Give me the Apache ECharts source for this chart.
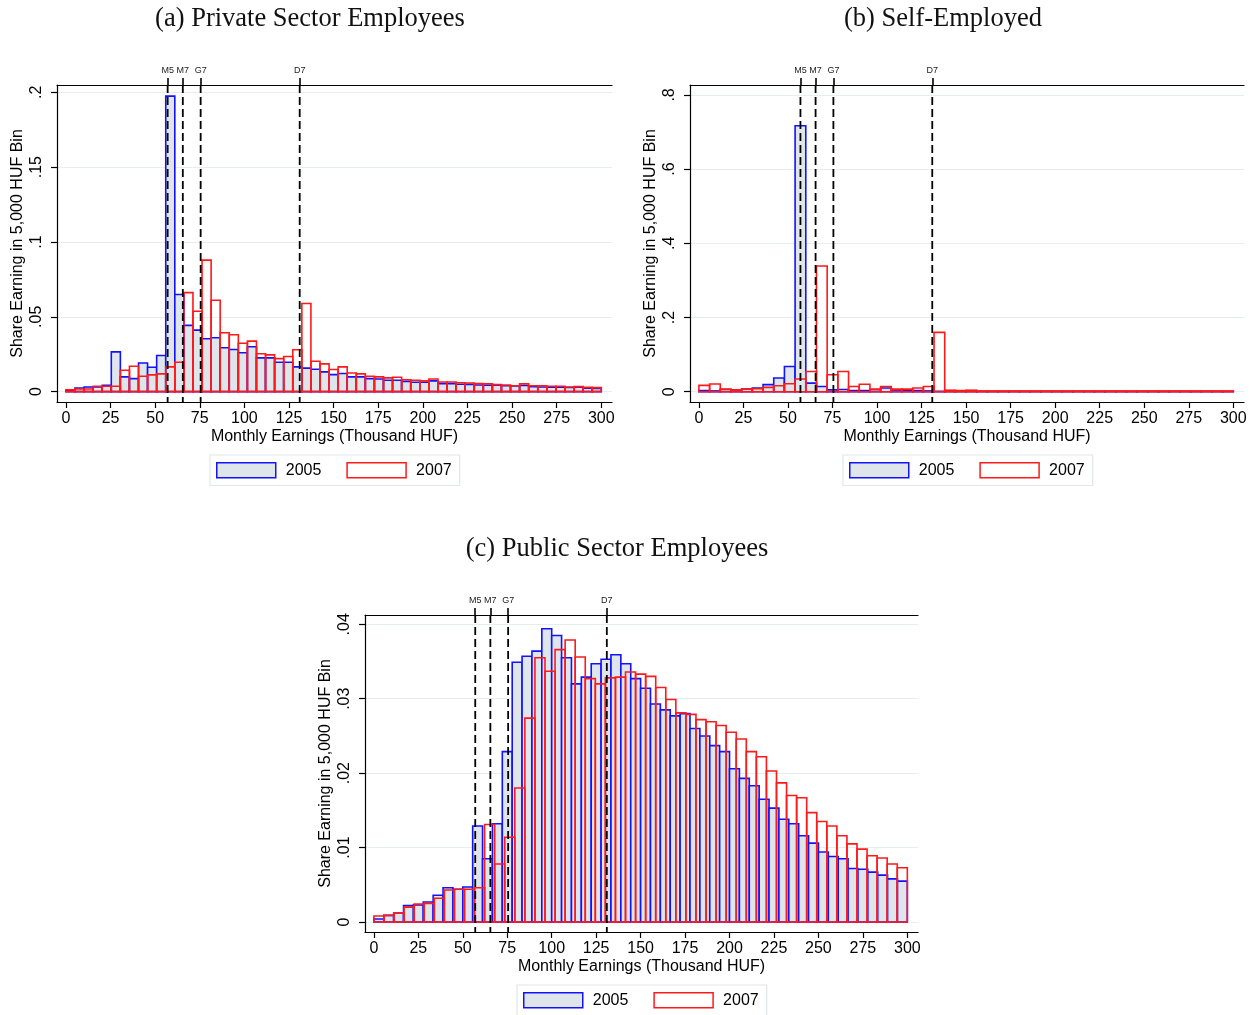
<!DOCTYPE html>
<html lang="en">
<head>
<meta charset="UTF-8">
<title>Monthly earnings distributions, 2005 vs 2007</title>
<script src="https://cdn.jsdelivr.net/npm/echarts@6/dist/echarts.min.js"></script>
<style>
    html, body { margin: 0; padding: 0; background: #fff; }
    #chart { width: 1258px; height: 1015px; }
</style>
</head>
<body>
<div id="chart"></div>
<script>
    // axis ticks
    var xTicks = [0, 25, 50, 75, 100, 125, 150, 175, 200, 225, 250, 275, 300];
    var privYTicks = [0, 0.05, 0.1, 0.15, 0.2];
    var selfYTicks = [0, 0.2, 0.4, 0.6, 0.8];
    var pubYTicks = [0, 0.01, 0.02, 0.03, 0.04];

    // reference wage levels (thousand HUF)
    var refVals = [57, 65.5, 75.5, 131];
    var refNames = ['M5', 'M7', 'G7', 'D7'];

    // (a) private sector, 59 bins over 0-300
    var privBins = 59;
    var privBlue = [0.001, 0.0025, 0.0031, 0.0031, 0.0042, 0.0266, 0.0099, 0.0087, 0.0192, 0.0163,
        0.0242, 0.1975, 0.0649, 0.0443, 0.0411, 0.0354, 0.036, 0.0293, 0.0282, 0.026,
        0.03, 0.0226, 0.0226, 0.0197, 0.0197, 0.0166, 0.0157, 0.015, 0.0132, 0.0114,
        0.0121, 0.0099, 0.0099, 0.0087, 0.0085, 0.0076, 0.0076, 0.0069, 0.0063, 0.0063,
        0.0072, 0.0054, 0.0054, 0.005, 0.0049, 0.0045, 0.0043, 0.0043, 0.004, 0.0038,
        0.0041, 0.0034, 0.0031, 0.003, 0.003, 0.0028, 0.003, 0.0024, 0.0022];
    var privRed = [0.0013, 0.0018, 0.0018, 0.0036, 0.0036, 0.0036, 0.0143, 0.017, 0.0103, 0.0112,
        0.0119, 0.0166, 0.0197, 0.0662, 0.0537, 0.0879, 0.0611, 0.0394, 0.038, 0.0324,
        0.0338, 0.0253, 0.0246, 0.0221, 0.0235, 0.028, 0.0589, 0.0203, 0.0186, 0.0148,
        0.0166, 0.0125, 0.0119, 0.0103, 0.0099, 0.0092, 0.0096, 0.008, 0.0076, 0.0072,
        0.0085, 0.0065, 0.0065, 0.006, 0.0058, 0.0054, 0.0052, 0.0047, 0.0045, 0.004,
        0.0052, 0.004, 0.004, 0.0036, 0.0036, 0.0031, 0.0034, 0.0029, 0.0027];

    // (b) self-employed, 50 bins over 0-300
    var selfBins = 50;
    var selfBlue = [0.003, 0.002, 0.006, 0.005, 0.007, 0.01, 0.019, 0.037, 0.068, 0.717,
        0.023, 0.014, 0.005, 0.006, 0.003, 0.003, 0.001, 0.01, 0.002, 0.003,
        0.003, 0.002, 0.001, 0.001, 0.001, 0.001, 0.001, 0.001, 0.001, 0.001,
        0.001, 0.001, 0.001, 0.001, 0.001, 0.001, 0.001, 0.001, 0.001, 0.001,
        0.001, 0.001, 0.001, 0.001, 0.001, 0.001, 0.001, 0.001, 0.001, 0.001];
    var selfRed = [0.017, 0.0206, 0.007, 0.005, 0.007, 0.008, 0.0116, 0.016, 0.0215, 0.034,
        0.0545, 0.339, 0.0456, 0.0545, 0.014, 0.02, 0.007, 0.014, 0.007, 0.007,
        0.01, 0.014, 0.16, 0.004, 0.003, 0.004, 0.002, 0.002, 0.002, 0.002,
        0.002, 0.002, 0.002, 0.002, 0.002, 0.002, 0.002, 0.002, 0.002, 0.002,
        0.002, 0.002, 0.002, 0.002, 0.002, 0.002, 0.002, 0.002, 0.002, 0.002];

    // (c) public sector, 2005 in 54 bins, 2007 in 53 bins over 0-300
    var pubBlueBins = 54;
    var pubRedBins = 53;
    var pubBlue = [0.0004, 0.0009, 0.0012, 0.0022, 0.0023, 0.0027, 0.0036, 0.0046, 0.0044, 0.0047,
        0.0129, 0.0085, 0.0132, 0.0229, 0.0349, 0.0357, 0.0364, 0.0394, 0.0385, 0.0355,
        0.032, 0.0329, 0.0347, 0.0353, 0.0359, 0.0347, 0.0327, 0.0314, 0.0293, 0.0285,
        0.0277, 0.028, 0.026, 0.025, 0.0237, 0.0229, 0.0206, 0.0193, 0.0183, 0.0165,
        0.0153, 0.0138, 0.0132, 0.0116, 0.0106, 0.0094, 0.0088, 0.0085, 0.0072, 0.0071,
        0.0067, 0.0063, 0.0058, 0.0055];
    var pubRed = [0.0008, 0.0009, 0.0012, 0.002, 0.0024, 0.0025, 0.0032, 0.0043, 0.0044, 0.0044,
        0.0046, 0.0131, 0.0078, 0.0114, 0.018, 0.0274, 0.0355, 0.0337, 0.0366, 0.0379,
        0.0356, 0.0327, 0.032, 0.0328, 0.0329, 0.0336, 0.0333, 0.033, 0.0315, 0.0299,
        0.0281, 0.0279, 0.0272, 0.0269, 0.0264, 0.0255, 0.0246, 0.0229, 0.0222, 0.0203,
        0.0187, 0.017, 0.0167, 0.0147, 0.0135, 0.0129, 0.0116, 0.0105, 0.0098, 0.0089,
        0.0086, 0.0078, 0.0073];

    var SANS = 'Liberation Sans';
    var BLUE = '#1212ff';
    var BLUE_FILL = '#dfe6eb';
    var RED = '#ff1a1a';

    function toBins(vals, nBins) {
        var w = 300 / nBins;
        return vals.map(function (v, i) { return [i * w, (i + 1) * w, v]; });
    }

    function barItem(fill, stroke) {
        return function (params, api) {
            var a = api.coord([api.value(0), 0]);
            var b = api.coord([api.value(1), api.value(2)]);
            return {
                type: 'rect',
                shape: {x: a[0], y: b[1], width: b[0] - a[0], height: a[1] - b[1]},
                style: {fill: fill, stroke: stroke, lineWidth: 1.6}
            };
        };
    }

    function refItem(yMin, yMax) {
        return function (params, api) {
            var t = api.coord([api.value(0), yMax]);
            var b = api.coord([api.value(0), yMin]);
            return {
                type: 'line',
                shape: {x1: t[0], y1: t[1], x2: b[0], y2: b[1]},
                style: {stroke: '#000', lineWidth: 1.8, lineDash: [8, 4]}
            };
        };
    }

    function yFmt(v) {
        return v === 0 ? '0' : String(v).replace(/^0\./, '.');
    }

    var grids = [], xAxes = [], yAxes = [], series = [], legends = [];

    function addPanel(g, pos, yMin, yMax, yTicks, blue, blueBins, red, redBins, legendPos) {
        grids.push({left: pos.left, top: pos.top, width: pos.width, height: pos.height});
        xAxes.push({
            gridIndex: g, type: 'value', min: -5, max: 306, position: 'bottom',
            axisLine: {show: true, onZero: false, lineStyle: {color: '#000', width: 1.2}},
            axisTick: {show: true, customValues: xTicks, length: 6, lineStyle: {color: '#000', width: 1.2}},
            axisLabel: {customValues: xTicks, fontSize: 16, color: '#000', fontFamily: SANS, margin: 9},
            splitLine: {show: false},
            name: 'Monthly Earnings (Thousand HUF)', nameLocation: 'middle', nameGap: 27,
            nameTextStyle: {fontSize: 16, color: '#000', fontFamily: SANS}
        });
        xAxes.push({
            gridIndex: g, type: 'value', min: -5, max: 306, position: 'top',
            axisLine: {show: true, onZero: false, lineStyle: {color: '#000', width: 1.2}},
            axisTick: {show: true, customValues: refVals, length: 7, lineStyle: {color: '#000', width: 1.6}},
            axisLabel: {
                customValues: refVals, fontSize: 9, color: '#222', fontFamily: SANS, margin: 10,
                formatter: function (v) { return refNames[refVals.indexOf(v)]; }
            },
            splitLine: {show: false}
        });
        yAxes.push({
            gridIndex: g, type: 'value', min: yMin, max: yMax,
            axisLine: {show: true, onZero: false, lineStyle: {color: '#000', width: 1.2}},
            axisTick: {show: true, customValues: yTicks, length: 6, lineStyle: {color: '#000', width: 1.2}},
            axisLabel: {customValues: yTicks, rotate: 90, fontSize: 16, color: '#000', fontFamily: SANS, margin: 12, formatter: yFmt},
            splitLine: {show: true, lineStyle: {color: '#e6eef0', width: 1.2}},
            name: 'Share Earning in 5,000 HUF Bin', nameLocation: 'middle', nameGap: 31,
            nameTextStyle: {fontSize: 16, color: '#000', fontFamily: SANS}
        });
        series.push({
            name: '2005', type: 'custom', xAxisIndex: 2 * g, yAxisIndex: g, z: 2,
            encode: {x: [0, 1], y: 2}, data: toBins(blue, blueBins),
            renderItem: barItem(BLUE_FILL, BLUE)
        });
        series.push({
            name: '2007', type: 'custom', xAxisIndex: 2 * g, yAxisIndex: g, z: 3,
            encode: {x: [0, 1], y: 2}, data: toBins(red, redBins),
            renderItem: barItem('rgba(255,255,255,0)', RED)
        });
        series.push({
            name: 'ref', type: 'custom', xAxisIndex: 2 * g, yAxisIndex: g, z: 4, silent: true,
            encode: {x: 0}, data: refVals.map(function (v) { return [v]; }),
            renderItem: refItem(yMin, yMax)
        });
        legends.push({
            left: legendPos.left, top: legendPos.top, orient: 'horizontal',
            itemWidth: 59, itemHeight: 15, itemGap: 25, padding: [7, 8, 7, 6],
            borderColor: '#dfe8ea', borderWidth: 1.2,
            textStyle: {fontSize: 16, color: '#000', fontFamily: SANS, padding: [0, 0, 0, 5]},
            data: [
                {name: '2005', icon: 'rect', itemStyle: {color: BLUE_FILL, borderColor: BLUE, borderWidth: 1.5}},
                {name: '2007', icon: 'rect', itemStyle: {color: '#fff', borderColor: RED, borderWidth: 1.5}}
            ]
        });
    }

    addPanel(0, {left: 57, top: 85, width: 555, height: 317}, -0.0069, 0.2049, privYTicks,
        privBlue, privBins, privRed, privBins, {left: 210, top: 455});
    addPanel(1, {left: 690, top: 85, width: 554, height: 317}, -0.0278, 0.8267, selfYTicks,
        selfBlue, selfBins, selfRed, selfBins, {left: 843, top: 455});
    addPanel(2, {left: 365, top: 615, width: 553, height: 317}, -0.00134, 0.04125, pubYTicks,
        pubBlue, pubBlueBins, pubRed, pubRedBins, {left: 517, top: 985});

    var titleFont = '26.5px "Liberation Serif"';
    var option = {
        animation: false,
        backgroundColor: '#fff',
        grid: grids,
        xAxis: xAxes,
        yAxis: yAxes,
        legend: legends,
        series: series,
        graphic: [
            {type: 'text', x: 310, y: 19, style: {text: '(a) Private Sector Employees', font: titleFont, fill: '#111', textAlign: 'center', textVerticalAlign: 'middle'}},
            {type: 'text', x: 943, y: 19, style: {text: '(b) Self-Employed', font: titleFont, fill: '#111', textAlign: 'center', textVerticalAlign: 'middle'}},
            {type: 'text', x: 617, y: 549, style: {text: '(c) Public Sector Employees', font: titleFont, fill: '#111', textAlign: 'center', textVerticalAlign: 'middle'}}
        ]
    };

    var chart = echarts.init(document.getElementById('chart'));
    chart.setOption(option);
</script>
</body>
</html>
